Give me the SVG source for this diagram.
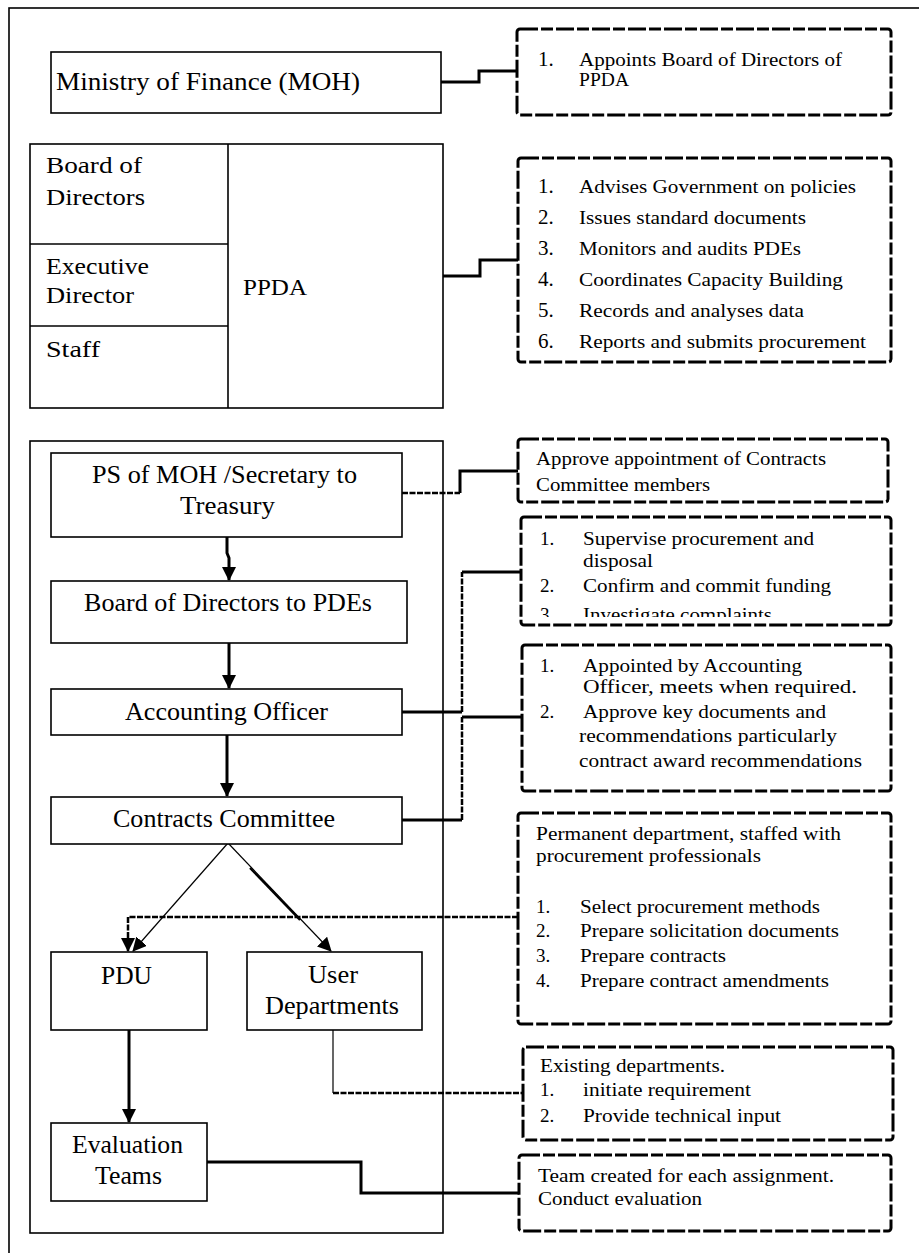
<svg xmlns="http://www.w3.org/2000/svg" width="919" height="1253" viewBox="0 0 919 1253">
<style>
  text { font-family: "Liberation Serif", "Times New Roman", serif; fill: #000; }
  .nb { fill: #fff; stroke: #000; stroke-width: 1.6; }
  .frame { fill: none; stroke: #000; stroke-width: 1.6; }
  .call { fill: #fff; stroke: #000; stroke-width: 3; stroke-dasharray: 18 3 12 3; }
  .big { font-size: 26px; }
  .mid { font-size: 24px; }
  .ct { font-size: 19px; }
  .num { font-size: 21px; }
  .thick { fill: none; stroke: #000; stroke-width: 3; }
  .dot { fill: none; stroke: #000; stroke-width: 2.5; stroke-dasharray: 6 1.5; }
  .thin { fill: none; stroke: #000; stroke-width: 1.2; }
</style>
<defs>
  <marker id="ah" viewBox="0 0 14 14" refX="13" refY="7" markerWidth="14" markerHeight="14" markerUnits="userSpaceOnUse" orient="auto">
    <path d="M0,0 L14,7 L0,14 z" fill="#000"/>
  </marker>
  <clipPath id="clip4"><rect x="521" y="517" width="370" height="100"/></clipPath>
</defs>
<rect width="919" height="1253" fill="#fff"/>
<rect x="9" y="8" width="1000" height="1300" class="frame"/>

<g id="moh">
  <rect x="51" y="52" width="390" height="61" class="nb"/>
  <text x="56" y="90" class="big" textLength="304" lengthAdjust="spacingAndGlyphs">Ministry of Finance (MOH)</text>
</g>

<g id="callout-moh">
  <rect x="517" y="29" width="374" height="86" rx="3" class="call"/>
  <text x="538" y="66" class="num">1.</text>
  <text x="579" y="66" class="ct" textLength="263" lengthAdjust="spacingAndGlyphs">Appoints Board of Directors of</text>
  <text x="579" y="86" class="ct" textLength="50" lengthAdjust="spacingAndGlyphs">PPDA</text>
</g>

<g id="ppda">
  <rect x="30" y="144" width="413" height="264" class="nb"/>
  <line x1="228" y1="144" x2="228" y2="408" class="frame"/>
  <line x1="30" y1="244" x2="228" y2="244" class="frame"/>
  <line x1="30" y1="326" x2="228" y2="326" class="frame"/>
  <text x="46" y="173" class="mid" textLength="96" lengthAdjust="spacingAndGlyphs">Board of</text>
  <text x="46" y="205" class="mid" textLength="99" lengthAdjust="spacingAndGlyphs">Directors</text>
  <text x="46" y="274" class="mid" textLength="103" lengthAdjust="spacingAndGlyphs">Executive</text>
  <text x="46" y="303" class="mid" textLength="88" lengthAdjust="spacingAndGlyphs">Director</text>
  <text x="46" y="357" class="mid" textLength="54" lengthAdjust="spacingAndGlyphs">Staff</text>
  <text x="243" y="295" class="mid" textLength="64" lengthAdjust="spacingAndGlyphs">PPDA</text>
</g>

<g id="callout-ppda">
  <rect x="518" y="158" width="373" height="204" rx="3" class="call"/>
  <text x="538" y="193" class="num">1.</text>
  <text x="579" y="193" class="ct" textLength="277" lengthAdjust="spacingAndGlyphs">Advises Government on policies</text>
  <text x="538" y="224" class="num">2.</text>
  <text x="579" y="224" class="ct" textLength="227" lengthAdjust="spacingAndGlyphs">Issues standard documents</text>
  <text x="538" y="255" class="num">3.</text>
  <text x="579" y="255" class="ct" textLength="222" lengthAdjust="spacingAndGlyphs">Monitors and audits PDEs</text>
  <text x="538" y="286" class="num">4.</text>
  <text x="579" y="286" class="ct" textLength="264" lengthAdjust="spacingAndGlyphs">Coordinates Capacity Building</text>
  <text x="538" y="317" class="num">5.</text>
  <text x="579" y="317" class="ct" textLength="225" lengthAdjust="spacingAndGlyphs">Records and analyses data</text>
  <text x="538" y="348" class="num">6.</text>
  <text x="579" y="348" class="ct" textLength="287" lengthAdjust="spacingAndGlyphs">Reports and submits procurement</text>
</g>

<g id="pde-frame">
  <rect x="30" y="441" width="413" height="792" class="frame"/>
</g>

<g id="connectors">
  <path d="M441,82 H479 V71 H517" class="thick"/>
  <path d="M443,276 H480 V260 H518" class="thick"/>
  <path d="M402,493 H460" class="dot"/>
  <path d="M460,493 V471 H518" class="thick"/>
  <path d="M402,712 H462" class="thick"/>
  <path d="M462,712 V572" class="dot"/>
  <path d="M462,572 H521" class="thick"/>
  <path d="M402,820 H462" class="thick"/>
  <path d="M462,820 V717" class="dot"/>
  <path d="M462,717 H522" class="thick"/>
  <path d="M518,917 H128 V951" class="dot" marker-end="url(#ah)"/>
  <path d="M333,1030 V1093" class="thin"/>
  <path d="M333,1093 H523" class="dot" stroke-width="2"/>
  <path d="M207,1162 H361 V1193 H519" class="thick"/>
  <path d="M227,537 V553 L229,558 V580" class="thick" marker-end="url(#ah)"/>
  <path d="M229,643 V688" class="thick" marker-end="url(#ah)"/>
  <path d="M227,735 V796" class="thick" marker-end="url(#ah)"/>
  <path d="M129,1030 V1122" class="thick" marker-end="url(#ah)"/>
  <path d="M228,843 L133,951" class="thin" marker-end="url(#ah)"/>
  <path d="M228,843 L331,951" class="thin" marker-end="url(#ah)"/>
  <path d="M250,868 L300,920" fill="none" stroke="#000" stroke-width="2.2"/>
</g>

<g id="ps">
  <rect x="51" y="453" width="351" height="84" class="nb"/>
  <text x="92" y="483" class="big" textLength="265" lengthAdjust="spacingAndGlyphs">PS of MOH /Secretary to</text>
  <text x="180" y="514" class="big" textLength="95" lengthAdjust="spacingAndGlyphs">Treasury</text>
</g>

<g id="board-pde">
  <rect x="51" y="581" width="356" height="62" class="nb"/>
  <text x="84" y="611" class="big" textLength="288" lengthAdjust="spacingAndGlyphs">Board of Directors to PDEs</text>
</g>

<g id="accounting">
  <rect x="51" y="689" width="351" height="46" class="nb"/>
  <text x="125" y="720" class="big" textLength="203" lengthAdjust="spacingAndGlyphs">Accounting Officer</text>
</g>

<g id="contracts">
  <rect x="51" y="797" width="351" height="47" class="nb"/>
  <text x="113" y="827" class="big" textLength="222" lengthAdjust="spacingAndGlyphs">Contracts Committee</text>
</g>

<g id="pdu">
  <rect x="51" y="952" width="156" height="78" class="nb"/>
  <text x="101" y="984" class="big" textLength="51" lengthAdjust="spacingAndGlyphs">PDU</text>
</g>

<g id="user">
  <rect x="247" y="952" width="175" height="78" class="nb"/>
  <text x="308" y="983" class="big" textLength="50" lengthAdjust="spacingAndGlyphs">User</text>
  <text x="265" y="1014" class="big" textLength="134" lengthAdjust="spacingAndGlyphs">Departments</text>
</g>

<g id="evaluation">
  <rect x="51" y="1123" width="156" height="78" class="nb"/>
  <text x="72" y="1153" class="big" textLength="111" lengthAdjust="spacingAndGlyphs">Evaluation</text>
  <text x="95" y="1184" class="big" textLength="67" lengthAdjust="spacingAndGlyphs">Teams</text>
</g>

<g id="callout-ps">
  <rect x="518" y="439" width="370" height="63" rx="3" class="call"/>
  <text x="536" y="465" class="ct" textLength="290" lengthAdjust="spacingAndGlyphs">Approve appointment of Contracts</text>
  <text x="536" y="491" class="ct" textLength="174" lengthAdjust="spacingAndGlyphs">Committee members</text>
</g>

<g id="callout-board">
  <rect x="521" y="517" width="370" height="108" rx="3" class="call"/>
  <g clip-path="url(#clip4)">
    <text x="540" y="545" class="ct">1.</text>
    <text x="583" y="545" class="ct" textLength="231" lengthAdjust="spacingAndGlyphs">Supervise procurement and</text>
    <text x="583" y="567" class="ct" textLength="70" lengthAdjust="spacingAndGlyphs">disposal</text>
    <text x="540" y="592" class="ct">2.</text>
    <text x="583" y="592" class="ct" textLength="248" lengthAdjust="spacingAndGlyphs">Confirm and commit funding</text>
    <text x="540" y="621" class="ct">3.</text>
    <text x="583" y="621" class="ct" textLength="189" lengthAdjust="spacingAndGlyphs">Investigate complaints</text>
  </g>
</g>

<g id="callout-contracts">
  <rect x="522" y="645" width="369" height="146" rx="3" class="call"/>
  <text x="540" y="672" class="ct">1.</text>
  <text x="583" y="672" class="ct" textLength="219" lengthAdjust="spacingAndGlyphs">Appointed by Accounting</text>
  <text x="583" y="693" class="ct" textLength="274" lengthAdjust="spacingAndGlyphs">Officer, meets when required.</text>
  <text x="540" y="718" class="ct">2.</text>
  <text x="583" y="718" class="ct" textLength="243" lengthAdjust="spacingAndGlyphs">Approve key documents and</text>
  <text x="579" y="742" class="ct" textLength="258" lengthAdjust="spacingAndGlyphs">recommendations particularly</text>
  <text x="579" y="767" class="ct" textLength="283" lengthAdjust="spacingAndGlyphs">contract award recommendations</text>
</g>

<g id="callout-pdu">
  <rect x="518" y="813" width="373" height="211" rx="3" class="call"/>
  <text x="536" y="840" class="ct" textLength="305" lengthAdjust="spacingAndGlyphs">Permanent department, staffed with</text>
  <text x="536" y="862" class="ct" textLength="225" lengthAdjust="spacingAndGlyphs">procurement professionals</text>
  <text x="536" y="913" class="ct">1.</text>
  <text x="580" y="913" class="ct" textLength="240" lengthAdjust="spacingAndGlyphs">Select procurement methods</text>
  <text x="536" y="937" class="ct">2.</text>
  <text x="580" y="937" class="ct" textLength="259" lengthAdjust="spacingAndGlyphs">Prepare solicitation documents</text>
  <text x="536" y="962" class="ct">3.</text>
  <text x="580" y="962" class="ct" textLength="146" lengthAdjust="spacingAndGlyphs">Prepare contracts</text>
  <text x="536" y="987" class="ct">4.</text>
  <text x="580" y="987" class="ct" textLength="249" lengthAdjust="spacingAndGlyphs">Prepare contract amendments</text>
</g>

<g id="callout-user">
  <rect x="523" y="1047" width="370" height="93" rx="3" class="call"/>
  <text x="540" y="1072" class="ct" textLength="185" lengthAdjust="spacingAndGlyphs">Existing departments.</text>
  <text x="540" y="1096" class="ct">1.</text>
  <text x="583" y="1096" class="ct" textLength="168" lengthAdjust="spacingAndGlyphs">initiate requirement</text>
  <text x="540" y="1122" class="ct">2.</text>
  <text x="583" y="1122" class="ct" textLength="198" lengthAdjust="spacingAndGlyphs">Provide technical input</text>
</g>

<g id="callout-eval">
  <rect x="519" y="1155" width="372" height="76" rx="3" class="call"/>
  <text x="538" y="1182" class="ct" textLength="296" lengthAdjust="spacingAndGlyphs">Team created for each assignment.</text>
  <text x="538" y="1205" class="ct" textLength="164" lengthAdjust="spacingAndGlyphs">Conduct evaluation</text>
</g>
</svg>
